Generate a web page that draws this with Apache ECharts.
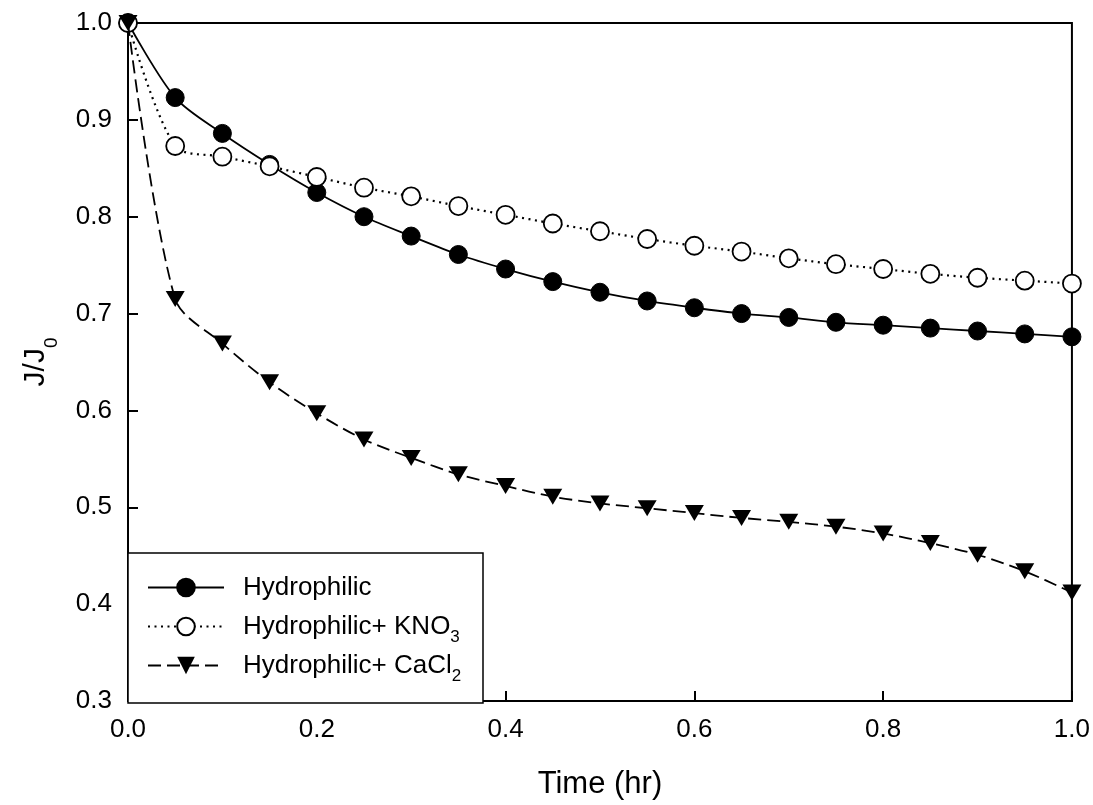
<!DOCTYPE html>
<html><head><meta charset="utf-8">
<script src="https://cdn.jsdelivr.net/npm/echarts@6/dist/echarts.min.js"></script>
<style>html,body{margin:0;padding:0;background:#fff}#c{width:1093px;height:805px}</style>
</head><body><div id="c"></div>
<script>
const time = [0.00, 0.05, 0.10, 0.15, 0.20, 0.25, 0.30, 0.35, 0.40, 0.45, 0.50,
              0.55, 0.60, 0.65, 0.70, 0.75, 0.80, 0.85, 0.90, 0.95, 1.00];
const hydrophilic = [1.000, 0.923, 0.886, 0.854, 0.825, 0.800, 0.780, 0.761, 0.746, 0.733, 0.722,
                     0.713, 0.706, 0.700, 0.696, 0.691, 0.688, 0.685, 0.682, 0.679, 0.676];
const hydrophilicKNO3 = [1.000, 0.873, 0.862, 0.852, 0.841, 0.830, 0.821, 0.811, 0.802, 0.793, 0.785,
                         0.777, 0.770, 0.764, 0.757, 0.751, 0.746, 0.741, 0.737, 0.734, 0.731];
const hydrophilicCaCl2 = [1.000, 0.715, 0.669, 0.629, 0.597, 0.570, 0.551, 0.534, 0.522, 0.511, 0.504,
                          0.499, 0.494, 0.489, 0.485, 0.480, 0.473, 0.463, 0.451, 0.434, 0.412];
const seriesNames = ['Hydrophilic', 'Hydrophilic+ KNO3', 'Hydrophilic+ CaCl2'];
const legendMain = ['Hydrophilic', 'Hydrophilic+ KNO', 'Hydrophilic+ CaCl'];
const legendSub = [' ', '3', '2'];
const xTitle = 'Time (hr)';
const yTitleMain = 'J/J';
const yTitleSub = '0';

const FONT = '"Liberation Sans", Arial, Helvetica, sans-serif';
const pair = (vals) => time.map((t, i) => [t, vals[i]]);
const downTri = 'path://M0,0 L20,0 L10,17 Z';

const chart = echarts.init(document.getElementById('c'), null, {renderer: 'canvas'});
const option = {
  animation: false,
  backgroundColor: '#fff',
  grid: {left: 128, right: 21, top: 23, bottom: 101, show: true, borderColor: '#000', borderWidth: 2},
  graphic: [{
    type: 'rect', z: 1,
    shape: {x: 128, y: 553, width: 355, height: 150},
    style: {fill: '#fff', stroke: '#000', lineWidth: 1.5}
  }],
  legend: {
    orient: 'vertical', left: 147, top: 568, padding: 0, itemGap: 0,
    itemWidth: 76, itemHeight: 22, selectedMode: false, z: 10,
    data: seriesNames,
    formatter: (name) => {
      const i = seriesNames.indexOf(name);
      return '{a|' + legendMain[i] + '}{s|' + legendSub[i] + '}';
    },
    textStyle: {
      fontSize: 26, fontFamily: FONT,
      rich: {
        a: {fontSize: 26, fontFamily: FONT, color: '#000', lineHeight: 26, verticalAlign: 'middle', padding: [0, 0, 0, 14]},
        s: {fontSize: 17, fontFamily: FONT, color: '#000', lineHeight: 17, verticalAlign: 'middle', padding: [22, 0, 0, 0]}
      }
    }
  },
  xAxis: {
    type: 'value', min: 0, max: 1, interval: 0.2,
    name: xTitle, nameLocation: 'middle', nameGap: 68,
    nameTextStyle: {fontSize: 31, fontFamily: FONT, color: '#000', lineHeight: 31},
    axisLine: {show: true, lineStyle: {color: '#000', width: 2}},
    axisTick: {show: true, inside: true, length: 10, lineStyle: {color: '#000', width: 2}},
    axisLabel: {fontSize: 26, fontFamily: FONT, color: '#000', margin: 16, lineHeight: 26,
                formatter: (v) => v.toFixed(1)},
    splitLine: {show: false}
  },
  yAxis: {
    type: 'value', min: 0.3, max: 1.0, interval: 0.1,
    name: '{a|' + yTitleMain + '}{s|' + yTitleSub + '}', nameLocation: 'middle', nameGap: 77,
    nameTextStyle: {
      fontSize: 30, fontFamily: FONT, color: '#000',
      rich: {
        a: {fontSize: 30, fontFamily: FONT, color: '#000', lineHeight: 30, verticalAlign: 'middle'},
        s: {fontSize: 19, fontFamily: FONT, color: '#000', lineHeight: 19, verticalAlign: 'middle', padding: [32, 0, 0, 0]}
      }
    },
    axisLine: {show: true, lineStyle: {color: '#000', width: 2}},
    axisTick: {show: true, inside: true, length: 10, lineStyle: {color: '#000', width: 2}},
    axisLabel: {fontSize: 26, fontFamily: FONT, color: '#000', margin: 16,
                formatter: (v) => v.toFixed(1)},
    splitLine: {show: false}
  },
  series: [
    {
      name: seriesNames[0], type: 'line', data: pair(hydrophilic), smooth: 0.3, clip: false,
      symbol: 'circle', symbolSize: 18,
      itemStyle: {color: '#000', borderColor: '#000', borderWidth: 1},
      lineStyle: {color: '#000', width: 1.8, type: 'solid'},
      emphasis: {disabled: true}, z: 3
    },
    {
      name: seriesNames[1], type: 'line', data: pair(hydrophilicKNO3), smooth: 0.3, clip: false,
      symbol: 'circle', symbolSize: 18,
      itemStyle: {color: '#fff', borderColor: '#000', borderWidth: 1.8},
      lineStyle: {color: '#000', width: 2.2, type: [2, 4.5]},
      emphasis: {disabled: true}, z: 4
    },
    {
      name: seriesNames[2], type: 'line', data: pair(hydrophilicCaCl2), smooth: 0.3, clip: false,
      symbol: downTri, symbolSize: [19, 16],
      itemStyle: {color: '#000', borderColor: '#000', borderWidth: 0},
      lineStyle: {color: '#000', width: 1.8, type: [13, 6]},
      emphasis: {disabled: true}, z: 5
    }
  ]
};
chart.setOption(option);
</script>
</body></html>
